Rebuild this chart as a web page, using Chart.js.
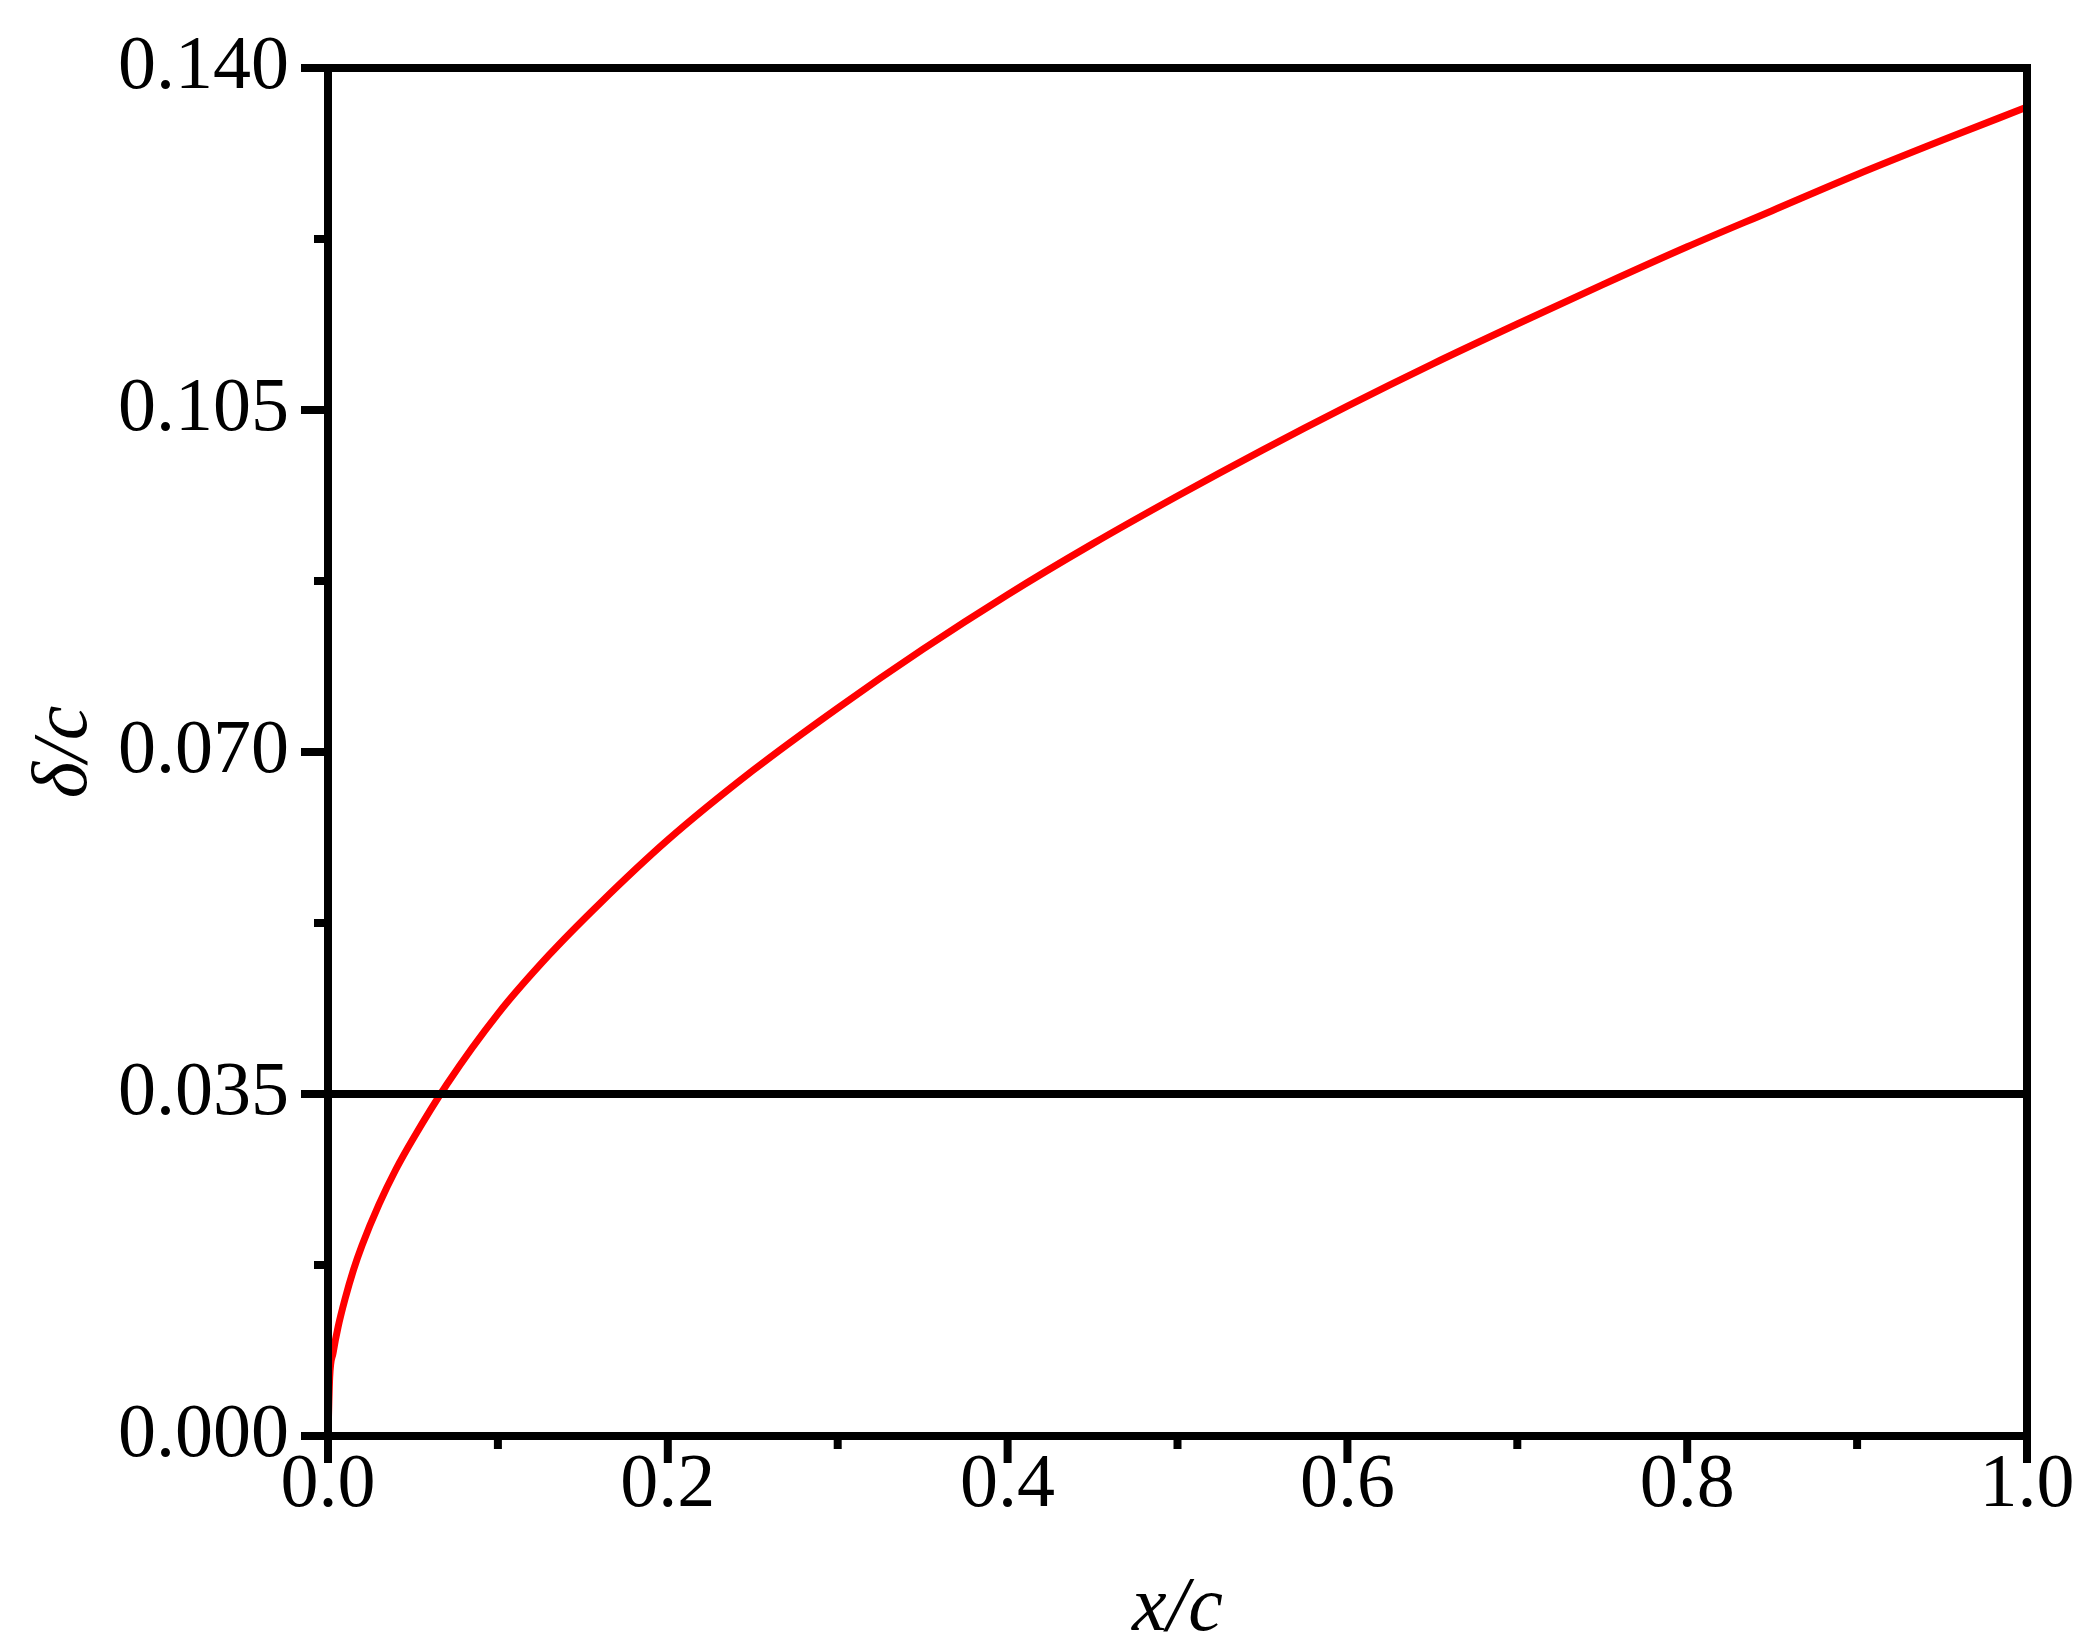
<!DOCTYPE html>
<html>
<head>
<meta charset="utf-8">
<script src="https://cdn.jsdelivr.net/npm/chart.js@4.4.1/dist/chart.umd.min.js"></script>
<style>
  html, body { margin: 0; padding: 0; background: #fff; }
  canvas { display: block; }
</style>
</head>
<body>
<canvas id="chart" width="2095" height="1641"></canvas>
<script>
// values
const xPos = [0, 0.001, 0.003, 0.006, 0.01, 0.015, 0.02, 0.03, 0.04, 0.05, 0.07, 0.1, 0.13, 0.16,
  0.2, 0.25, 0.3, 0.35, 0.4, 0.45, 0.5, 0.55, 0.6, 0.65, 0.7, 0.75, 0.8, 0.85, 0.9, 0.95, 1.0];
const deltaC = [0, 0.0060, 0.0085, 0.0112, 0.0140, 0.0170, 0.0195, 0.0237, 0.0273, 0.0304, 0.0360,
  0.0432, 0.0492, 0.0545, 0.0610, 0.0681, 0.0745, 0.0805, 0.0861, 0.0913, 0.0962, 0.1009, 0.1054,
  0.1097, 0.1138, 0.1178, 0.1217, 0.1254, 0.1291, 0.1326, 0.1360];
const refLevel = 0.035;
const refX = [0, 1];

const xTicks = [0, 0.2, 0.4, 0.6, 0.8, 1.0];
const xMinorTicks = [0.1, 0.3, 0.5, 0.7, 0.9];
const yTicks = [0, 0.035, 0.07, 0.105, 0.14];
const yMinorTicks = [0.0175, 0.0525, 0.0875, 0.1225];

const FONT = "'Liberation Serif', 'DejaVu Serif', serif";

// box frame and outward ticks, placed through the scales
const framePlugin = {
  id: 'frame',
  afterDraw(chart) {
    const { ctx, chartArea: a, scales: { x, y } } = chart;
    ctx.save();
    ctx.strokeStyle = '#000';
    ctx.lineWidth = 8;
    ctx.lineJoin = 'miter';
    ctx.lineCap = 'butt';
    ctx.strokeRect(a.left, a.top, a.right - a.left, a.bottom - a.top);

    const tick = (x1, y1, x2, y2) => {
      ctx.beginPath();
      ctx.moveTo(x1, y1);
      ctx.lineTo(x2, y2);
      ctx.stroke();
    };
    xTicks.forEach(v => { const px = x.getPixelForValue(v); tick(px, a.bottom, px, a.bottom + 27); });
    xMinorTicks.forEach(v => { const px = x.getPixelForValue(v); tick(px, a.bottom, px, a.bottom + 13); });
    yTicks.forEach(v => { const py = y.getPixelForValue(v); tick(a.left, py, a.left - 27, py); });
    yMinorTicks.forEach(v => { const py = y.getPixelForValue(v); tick(a.left, py, a.left - 14, py); });
    ctx.restore();
  }
};

// empty spacer axes keep the plot box at fixed margins
const spacer = (pos, size) => ({
  position: pos,
  display: true,
  grid: { display: false, drawTicks: false },
  border: { display: false },
  ticks: { display: false },
  afterFit: s => { if (pos === 'top') s.height = size; else s.width = size; },
});

new Chart(document.getElementById('chart'), {
  type: 'line',
  data: {
    datasets: [
      {
        label: 'ref',
        data: refX.map(v => ({ x: v, y: refLevel })),
        borderColor: '#000',
        borderWidth: 8,
        pointRadius: 0,
      },
      {
        label: 'delta',
        data: xPos.map((v, i) => ({ x: v, y: deltaC[i] })),
        borderColor: '#ff0000',
        borderWidth: 7,
        pointRadius: 0,
        cubicInterpolationMode: 'monotone',
      },
    ],
  },
  options: {
    responsive: false,
    animation: false,
    layout: { padding: 0 },
    plugins: { legend: { display: false }, tooltip: { enabled: false } },
    scales: {
      x: {
        type: 'linear',
        min: 0,
        max: 1,
        grid: { display: false, drawTicks: false },
        border: { display: false },
        afterBuildTicks: s => { s.ticks = xTicks.map(v => ({ value: v })); },
        afterFit: s => { s.height = 205; s.paddingLeft = 0; s.paddingRight = 0; },
        ticks: {
          padding: 4,
          maxRotation: 0,
          color: '#000',
          font: { family: FONT, size: 76 },
          callback: v => Number(v).toFixed(1),
        },
        title: {
          display: true,
          text: 'x/c',
          color: '#000',
          font: { family: FONT, size: 78, style: 'italic', lineHeight: 0.8 },
          padding: { top: 0, bottom: 0 },
        },
      },
      y: {
        type: 'linear',
        min: 0,
        max: 0.14,
        grid: { display: false, drawTicks: false },
        border: { display: false },
        afterBuildTicks: s => { s.ticks = yTicks.map(v => ({ value: v })); },
        afterFit: s => { s.width = 328; s.paddingTop = 0; s.paddingBottom = 0; },
        ticks: {
          padding: 39,
          color: '#000',
          font: { family: FONT, size: 76 },
          callback: v => Number(v).toFixed(3),
        },
        title: {
          display: true,
          text: 'δ/c',
          color: '#000',
          font: { family: FONT, size: 78, style: 'italic' },
          padding: { top: 19, bottom: 0 },
        },
      },
      xTop: spacer('top', 68),
      yRight: spacer('right', 68),
    },
  },
  plugins: [framePlugin],
});
</script>
</body>
</html>
